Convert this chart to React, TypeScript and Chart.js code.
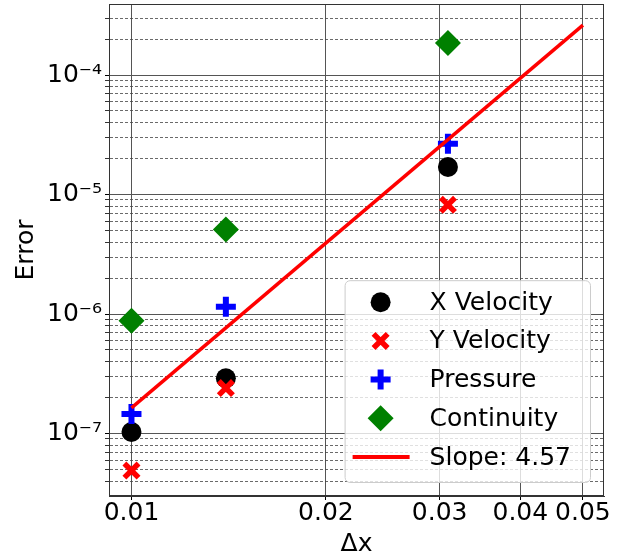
import React, { useEffect, useRef } from 'react';
import { Chart, registerables } from 'chart.js';
import { drawPoint } from 'chart.js/helpers';

Chart.register(...registerables);

// ---- data ----
const dx = [0.01, 0.014, 0.0309];
const xVelocity = [1.03e-7, 2.9e-7, 1.7e-5];
const yVelocity = [4.9e-8, 2.4e-7, 8.2e-6];
const pressure = [1.46e-7, 1.15e-6, 2.66e-5];
const continuity = [8.8e-7, 5.1e-6, 1.85e-4];
const slopeDx = [0.01, 0.05];
const slopeFit = [1.64e-7, 2.62e-4];
const seriesLabels = ['X Velocity', 'Y Velocity', 'Pressure', 'Continuity', 'Slope: 4.57'];

// ---- axes ----
const xTicks = [0.01, 0.02, 0.03, 0.04, 0.05];
const xTickLabels = ['0.01', '0.02', '0.03', '0.04', '0.05'];
const yDecades = [1e-8, 1e-7, 1e-6, 1e-5, 1e-4];
const yDecadeLabels = ['10⁻⁸', '10⁻⁷', '10⁻⁶', '10⁻⁵', '10⁻⁴'];
const yMultipliers = [1, 2, 3, 4, 5, 6, 7, 8, 9];
const xRange = [0.00923, 0.0539];
const yRange = [3.15e-8, 3.93e-4];

const FONT = 'DejaVu Sans';

const pts = (xs: number[], ys: number[]) => xs.map((x, i) => ({ x, y: ys[i] }));

const framePlugin = {
  id: 'frame',
  beforeDatasetsDraw(chart: any) {
    const { ctx, chartArea: a } = chart;
    ctx.save();
    ctx.strokeStyle = '#333';
    ctx.lineWidth = 1;
    ctx.strokeRect(Math.round(a.left) + 0.5, Math.round(a.top) + 0.5, Math.round(a.right - a.left) - 1, Math.round(a.bottom - a.top) - 1);
    ctx.restore();
  },
};

const legendPlugin = {
  id: 'insideLegend',
  afterDraw(chart: any) {
    const { ctx, chartArea: a } = chart;
    const ds = chart.data.datasets;
    ctx.save();
    ctx.font = `25px "${FONT}"`;
    let maxW = 0;
    ds.forEach((d: any) => { maxW = Math.max(maxW, ctx.measureText(d.label).width); });
    const rowH = 38.7;
    const w = 85 + maxW + 19;
    const h = 22 + rowH * (ds.length - 1) + 25;
    const right = a.right - 14;
    const bottom = a.bottom - 14;
    const left = right - w;
    const top = bottom - h;
    ctx.beginPath();
    ctx.roundRect(left + 0.5, top + 0.5, w, h, 5);
    ctx.fillStyle = 'rgba(255,255,255,0.8)';
    ctx.fill();
    ctx.strokeStyle = '#cccccc';
    ctx.lineWidth = 1;
    ctx.stroke();
    ds.forEach((d: any, i: number) => {
      const cy = top + 22 + i * rowH;
      const mx = left + 36;
      if (d.type === 'line') {
        ctx.beginPath();
        ctx.strokeStyle = d.borderColor;
        ctx.lineWidth = 4;
        ctx.moveTo(left + 8, cy);
        ctx.lineTo(left + 65, cy);
        ctx.stroke();
      } else {
        ctx.fillStyle = d.pointBackgroundColor;
        ctx.strokeStyle = d.pointBorderColor;
        ctx.lineWidth = d.pointBorderWidth;
        drawPoint(ctx, { pointStyle: d.pointStyle, radius: d.pointRadius, borderWidth: d.pointBorderWidth, rotation: 0 } as any, mx, cy);
      }
      ctx.fillStyle = '#000';
      ctx.textBaseline = 'middle';
      ctx.textAlign = 'left';
      ctx.fillText(d.label, left + 85, cy + 1);
    });
    ctx.restore();
  },
};

export default function App() {
  const ref = useRef<HTMLCanvasElement | null>(null);
  useEffect(() => {
    if (!ref.current) return;
    Chart.defaults.font.family = FONT;
    const chart = new Chart(ref.current, {
      type: 'scatter',
      data: {
        datasets: [
          {
            label: seriesLabels[0], data: pts(dx, xVelocity), order: 4,
            pointStyle: 'circle', pointRadius: 10, pointBackgroundColor: '#000000', pointBorderColor: '#000000', pointBorderWidth: 0,
          },
          {
            label: seriesLabels[1], data: pts(dx, yVelocity), order: 3,
            pointStyle: 'crossRot', pointRadius: 10, pointBackgroundColor: '#ff0000', pointBorderColor: '#ff0000', pointBorderWidth: 5.5,
          },
          {
            label: seriesLabels[2], data: pts(dx, pressure), order: 2,
            pointStyle: 'cross', pointRadius: 10, pointBackgroundColor: '#0000ff', pointBorderColor: '#0000ff', pointBorderWidth: 6,
          },
          {
            label: seriesLabels[3], data: pts(dx, continuity), order: 1,
            pointStyle: 'rectRot', pointRadius: 13, pointBackgroundColor: '#008000', pointBorderColor: '#008000', pointBorderWidth: 0,
          },
          {
            type: 'line', label: seriesLabels[4], data: pts(slopeDx, slopeFit), order: 0,
            showLine: true, borderColor: '#ff0000', borderWidth: 3.5, pointRadius: 0, fill: false,
          } as any,
        ],
      },
      options: {
        responsive: false,
        animation: false,
        events: [],
        layout: { autoPadding: false, padding: { top: 4, right: 15, left: 0, bottom: 0 } },
        plugins: { legend: { display: false }, tooltip: { enabled: false } },
        scales: {
          x: {
            type: 'logarithmic',
            min: xRange[0],
            max: xRange[1],
            afterBuildTicks: (s: any) => { s.ticks = xTicks.map((v) => ({ value: v, major: true })); },
            afterFit: (s: any) => { s.height = 64; s.paddingLeft = 0; s.paddingRight = 0; },
            ticks: {
              autoSkip: false, maxRotation: 0, minRotation: 0, padding: 1,
              color: '#000', font: { size: 25, lineHeight: 1 },
              callback: (_v: any, i: number) => xTickLabels[i],
            },
            grid: { color: '#555', lineWidth: 1, tickLength: 4, tickColor: '#000' },
            border: { display: true, color: '#333' },
            title: { display: true, text: 'Δx', color: '#000', font: { size: 25 }, padding: { top: 0, bottom: 1 } },
          },
          y: {
            type: 'logarithmic',
            min: yRange[0],
            max: yRange[1],
            afterBuildTicks: (s: any) => {
              const t: any[] = [];
              yDecades.forEach((d) => yMultipliers.forEach((m) => {
                const v = d * m;
                if (v >= yRange[0] && v <= yRange[1]) t.push({ value: v, major: m === 1 });
              }));
              s.ticks = t;
            },
            afterFit: (s: any) => { s.width = 109; s.paddingTop = 0; s.paddingBottom = 0; },
            ticks: {
              autoSkip: false, padding: 3, color: '#000', font: { size: 25 },
              callback: (v: any) => {
                const i = yDecades.findIndex((d) => Math.abs(Math.log10(d) - Math.log10(Number(v))) < 1e-6);
                return i >= 0 ? yDecadeLabels[i] : '';
              },
            },
            grid: {
              color: (c: any) => (c.tick && c.tick.major ? '#555' : '#444'),
              lineWidth: (c: any) => (c.tick && c.tick.major ? 1 : 0.8),
              tickLength: 4,
              tickColor: '#000',
            },
            border: {
              display: true, color: '#333',
              dash: (c: any) => (c.tick && !c.tick.major ? [3, 2] : []),
            } as any,
            title: { display: true, text: 'Error', color: '#000', font: { size: 25 }, padding: { top: 11, bottom: 0 } },
          },
        },
      },
      plugins: [framePlugin, legendPlugin],
    } as any);
    return () => chart.destroy();
  }, []);
  return (
    <div style={{ position: 'absolute', left: 0, top: 0, width: 619, height: 560, background: '#fff' }}>
      <canvas ref={ref} width={619} height={560} style={{ display: 'block' }} />
    </div>
  );
}
